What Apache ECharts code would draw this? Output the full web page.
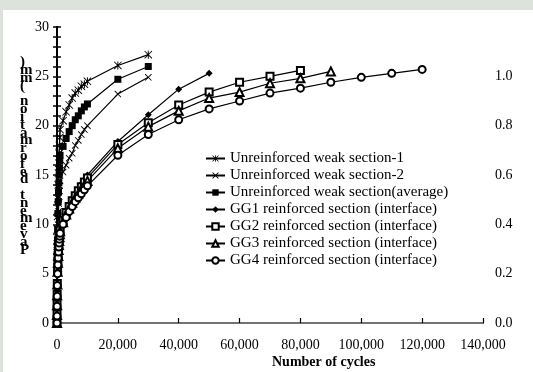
<!DOCTYPE html>
<html><head><meta charset="utf-8">
<script src="https://cdn.jsdelivr.net/npm/echarts@6/dist/echarts.min.js"></script>
<style>html,body{margin:0;padding:0;background:#fff;}#c{width:533px;height:372px;}</style>
</head><body><div id="c"></div>
<script>
// ---- data ----
const cyclesU = [0,10,25,50,100,150,200,300,400,500,600,700,800,900,1000,2000,3000,4000,5000,6000,7000,8000,9000,10000,20000,30000];
const unreinf1 = [0,2,4,6,8,9.5,10.8,12.6,14,15.2,16.2,17.2,18,18.8,19.6,20.5,21.4,22.1,22.8,23.3,23.6,24,24.2,24.5,26.1,27.2];
const unreinf2 = [0,1.5,3,4.5,6,7.2,8.2,9.5,10.5,11.3,12.1,12.8,13.4,13.9,14.4,15.3,16,16.7,17.2,18,18.5,19.1,19.6,20,23.2,24.9];
const unreinfAvg = [0,1.8,3.5,5.3,7,8.4,9.5,11.1,12.3,13.3,14.2,15,15.7,16.4,17,17.9,18.7,19.4,20,20.6,21,21.5,21.9,22.2,24.7,26];
const cyclesGG = [0,10,25,50,100,200,300,400,500,600,700,800,900,1000,2000,3000,4000,5000,6000,7000,8000,9000,10000,20000,30000,40000,50000,60000,70000,80000,90000,100000,110000,120000];
const gg1 = [0,1,2,3,4.2,5.5,6.4,7.1,7.7,8.2,8.6,9,9.3,9.6,10.6,11.4,12,12.6,13.1,13.6,14.1,14.5,15,18.4,21.1,23.7,25.3];
const gg2 = [0,0.9,1.9,2.9,4,5.3,6.2,6.9,7.5,8,8.4,8.8,9.1,9.4,10.4,11.2,11.8,12.4,12.9,13.4,13.8,14.3,14.7,18.1,20.3,22.1,23.4,24.4,25,25.6];
const gg3 = [0,0.8,1.8,2.8,3.9,5.2,6.1,6.8,7.4,7.9,8.3,8.7,9,9.3,10.2,11,11.6,12.2,12.7,13.1,13.6,14,14.4,17.7,19.9,21.5,22.8,23.4,24.3,24.8,25.5];
const gg4 = [0,0.7,1.7,2.7,3.8,5,5.9,6.6,7.2,7.7,8.1,8.5,8.8,9.1,10,10.7,11.3,11.8,12.3,12.7,13.1,13.5,13.9,17,19.1,20.6,21.7,22.5,23.3,23.8,24.4,24.9,25.3,25.7];
const seriesNames = ['Unreinforced weak section-1','Unreinforced weak section-2','Unreinforced weak section(average)','GG1 reinforced section (interface)','GG2 reinforced section (interface)','GG3 reinforced section (interface)','GG4 reinforced section (interface)'];
const xTicks = {min:0, max:140000, interval:20000};
const yTicks = {min:0, max:30, interval:5};
const y2Ticks = {min:0, max:1.2, interval:0.2};
const yTitle = 'Pavement deformation (mm)';
const xTitle = 'Number of cycles';

const FONT = '"Liberation Serif","Times New Roman",serif';
const asterisk = 'path://M4.4 0 L5.6 0 L5.6 10 L4.4 10 Z M0.8 0 L10 9.2 L9.2 10 L0 0.8 Z M9.2 0 L10 0.8 L0.8 10 L0 9.2 Z';
const cross = 'path://M0.9 0 L10 9.1 L9.1 10 L0 0.9 Z M9.1 0 L10 0.9 L0.9 10 L0 9.1 Z';
const symbols = [asterisk, cross, 'rect', 'diamond', 'emptyRect', 'emptyTriangle', 'emptyCircle'];
const sizes = [8, 7, 7, 7, 7, 8, 7];
const sets = [[cyclesU,unreinf1],[cyclesU,unreinf2],[cyclesU,unreinfAvg],[cyclesGG,gg1],[cyclesGG,gg2],[cyclesGG,gg3],[cyclesGG,gg4]];

const series = sets.map((s, i) => ({
  name: seriesNames[i], type: 'line', xAxisIndex: 0, yAxisIndex: 0,
  data: s[1].map((v, k) => [s[0][k], v]),
  symbol: symbols[i], symbolSize: sizes[i], symbolKeepAspect: true,
  lineStyle: {color: '#000', width: 1.2},
  itemStyle: {color: '#000', borderColor: '#000', borderWidth: (symbols[i].startsWith('empty') ? 1.4 : 0)},
  emphasis: {disabled: true}, animation: false
}));
series.push({type:'line', xAxisIndex:0, yAxisIndex:1, data:[], silent:true});

const chart = echarts.init(document.getElementById('c'), null, {renderer:'canvas'});
chart.setOption({
  animation: false,
  backgroundColor: '#fff',
  grid: {left: 57, right: 50, top: 27, bottom: 49},
  xAxis: [{
    type: 'value', min: xTicks.min, max: xTicks.max, interval: xTicks.interval,
    axisLine: {lineStyle: {color: '#000', width: 2}},
    axisTick: {inside: true, length: 5, lineStyle: {color:'#000', width: 1.2}},
    splitLine: {show: false},
    axisLabel: {color: '#000', fontFamily: FONT, fontSize: 14, margin: 15,
      formatter: v => v.toLocaleString('en-US')}
  },{
    type: 'value', position: 'top', min: xTicks.min, max: xTicks.max,
    axisLine: {show: true, lineStyle: {color: '#999', width: 1.5}},
    axisTick: {show: false}, axisLabel: {show: false}, splitLine: {show: false}
  }],
  yAxis: [{
    type: 'value', min: yTicks.min, max: yTicks.max, interval: yTicks.interval,
    axisLine: {show: true, lineStyle: {color: '#000', width: 2}},
    axisTick: {inside: true, length: 4, lineStyle: {color:'#000', width: 1.5}},
    minorTick: {show: true, splitNumber: 5, length: 4, lineStyle: {color:'#000', width: 1.5}},
    splitLine: {show: false},
    axisLabel: {color: '#000', fontFamily: FONT, fontSize: 14, margin: 8}
  },{
    type: 'value', position: 'right', min: y2Ticks.min, max: y2Ticks.max, interval: y2Ticks.interval,
    axisLine: {show: true, lineStyle: {color: '#000', width: 2}},
    axisTick: {inside: true, length: 4, lineStyle: {color:'#000', width: 1.5}},
    minorTick: {show: true, splitNumber: 5, length: 4, lineStyle: {color:'#000', width: 1.5}},
    splitLine: {show: false},
    axisLabel: {color: '#000', fontFamily: FONT, fontSize: 14, margin: 12,
      formatter: v => v > 1.1 ? '' : v.toFixed(1)}
  }],
  legend: {
    data: seriesNames, orient: 'vertical', left: 205, top: 151, padding: 0,
    itemGap: 2, itemWidth: 19, itemHeight: 8,
    textStyle: {color: '#000', fontFamily: FONT, fontSize: 15, lineHeight: 15},
    selectedMode: false
  },
  graphic: [
    {type:'rect', shape:{x:0,y:0,width:533,height:10}, style:{fill:'#dde2dc'}, silent:true},
    {type:'rect', shape:{x:0,y:0,width:3,height:372}, style:{fill:'#dde2dc'}, silent:true},
    {type:'text', left: 20, top: 55, silent:true,
      style:{text: yTitle.split('').reverse().join('\n'), font: 'bold 15px ' + FONT, fill:'#000', lineHeight: 7.8, align:'center'}},
    {type:'text', left: 272, top: 355, silent:true,
      style:{text: xTitle, font: 'bold 14px ' + FONT, fill:'#000'}}
  ],
  series: series
});
</script></body></html>
